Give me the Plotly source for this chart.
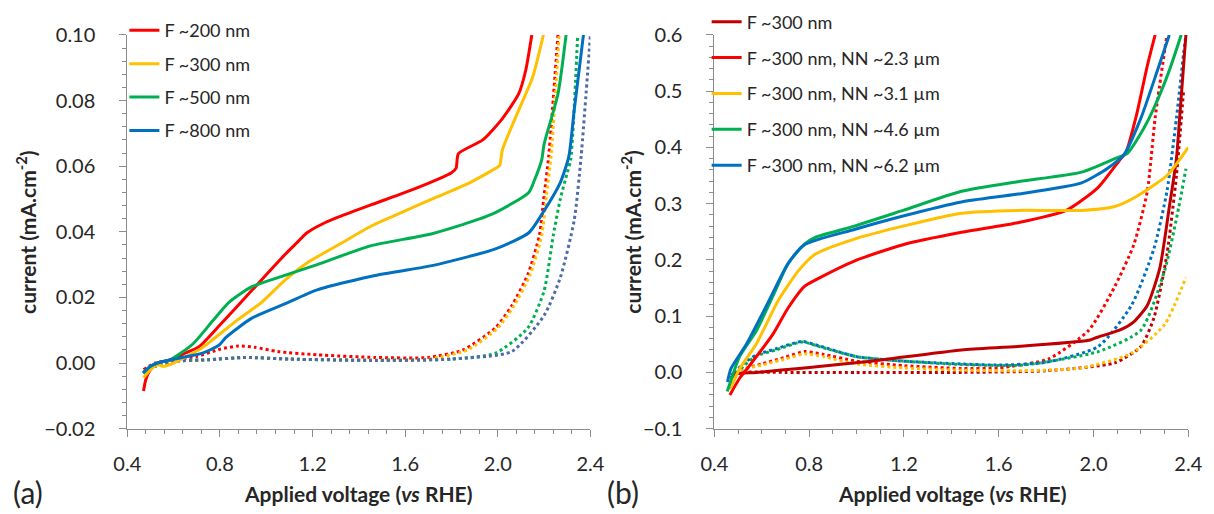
import plotly.graph_objects as go

# ---------------- Panel (a) data ----------------
a_red_v = [0.47, 0.48, 0.50, 0.53, 0.59, 0.65, 0.71, 0.80, 0.94, 1.08, 1.13, 1.176, 1.24, 1.316, 1.46, 1.60, 1.74, 1.80, 1.82, 1.83, 1.935, 2.02, 2.09, 2.12, 2.147]
a_red_j = [-0.0085, -0.005, -0.002, 0.000, 0.001, 0.003, 0.005, 0.0116, 0.0223, 0.033, 0.0365, 0.0397, 0.0423, 0.0446, 0.0484, 0.052, 0.056, 0.058, 0.0594, 0.0638, 0.068, 0.0745, 0.082, 0.089, 0.100]

a_yel_v = [0.47, 0.50, 0.53, 0.556, 0.60, 0.657, 0.72, 0.767, 0.868, 0.98, 1.08, 1.176, 1.316, 1.46, 1.60, 1.74, 1.88, 2.005, 2.01, 2.02, 2.09, 2.15, 2.197]
a_yel_j = [-0.0045, -0.002, -0.0005, -0.001, 0.000, 0.002, 0.0045, 0.007, 0.0127, 0.0185, 0.0252, 0.0305, 0.0362, 0.042, 0.0464, 0.0507, 0.055, 0.060, 0.0605, 0.065, 0.077, 0.087, 0.100]

a_grn_v = [0.47, 0.50, 0.53, 0.586, 0.683, 0.767, 0.839, 0.936, 1.08, 1.22, 1.45, 1.72, 1.97, 2.134, 2.16, 2.19, 2.20, 2.26, 2.295]
a_grn_j = [-0.003, -0.001, 0.000, 0.001, 0.0058, 0.0127, 0.0185, 0.0232, 0.0267, 0.030, 0.0357, 0.0395, 0.0452, 0.052, 0.056, 0.062, 0.0667, 0.082, 0.100]

a_blu_v = [0.467, 0.50, 0.53, 0.586, 0.725, 0.797, 0.826, 0.936, 1.08, 1.22, 1.47, 1.71, 1.99, 2.134, 2.20, 2.27, 2.307, 2.33, 2.37]
a_blu_j = [-0.003, -0.001, 0.000, 0.001, 0.003, 0.0055, 0.0078, 0.0136, 0.018, 0.0223, 0.0267, 0.0296, 0.0348, 0.0397, 0.0464, 0.055, 0.063, 0.077, 0.100]

a_red_dot_v = [0.47, 0.52, 0.60, 0.70, 0.80, 0.88, 0.95, 1.05, 1.22, 1.47, 1.70, 1.85, 1.99, 2.06, 2.13, 2.18, 2.20, 2.22, 2.26]
a_red_dot_j = [-0.002, 0.000, 0.001, 0.002, 0.0042, 0.0052, 0.0048, 0.0035, 0.0025, 0.0017, 0.0017, 0.004, 0.0107, 0.0174, 0.027, 0.039, 0.051, 0.063, 0.100]

a_yel_dot_v = [0.47, 0.52, 0.60, 0.75, 0.91, 1.10, 1.47, 1.70, 1.87, 2.00, 2.07, 2.14, 2.19, 2.21, 2.23, 2.265]
a_yel_dot_j = [-0.003, -0.001, 0.0005, 0.001, 0.0017, 0.0012, 0.0009, 0.0012, 0.004, 0.0107, 0.0174, 0.027, 0.039, 0.051, 0.063, 0.100]

a_grn_dot_v = [0.47, 0.52, 0.60, 0.75, 0.91, 1.10, 1.47, 1.80, 1.99, 2.13, 2.20, 2.24, 2.27, 2.30, 2.315, 2.345]
a_grn_dot_j = [-0.003, -0.001, 0.0005, 0.001, 0.0017, 0.0012, 0.0008, 0.0012, 0.003, 0.0107, 0.022, 0.039, 0.050, 0.058, 0.062, 0.100]

a_blu_dot_v = [0.47, 0.52, 0.60, 0.75, 0.91, 1.10, 1.47, 1.80, 2.06, 2.20, 2.27, 2.33, 2.36, 2.40]
a_blu_dot_j = [-0.003, -0.001, 0.0005, 0.001, 0.0017, 0.0012, 0.0008, 0.0012, 0.0035, 0.0145, 0.026, 0.0435, 0.063, 0.100]

# ---------------- Panel (b) data ----------------
b_dred_v = [0.47, 0.50, 0.577, 0.78, 1.06, 1.443, 1.68, 1.98, 2.00, 2.02, 2.115, 2.17, 2.227, 2.28, 2.32, 2.35, 2.363, 2.39]
b_dred_j = [-0.005, -0.002, 0.000, 0.008, 0.020, 0.040, 0.046, 0.057, 0.060, 0.063, 0.076, 0.090, 0.119, 0.186, 0.294, 0.380, 0.450, 0.600]

b_red_v = [0.465, 0.507, 0.548, 0.647, 0.71, 0.78, 0.825, 0.99, 1.196, 1.443, 1.68, 1.885, 2.02, 2.115, 2.136, 2.18, 2.227, 2.26]
b_red_j = [-0.04, -0.01, 0.012, 0.068, 0.114, 0.153, 0.164, 0.198, 0.227, 0.249, 0.266, 0.288, 0.329, 0.380, 0.390, 0.455, 0.545, 0.600]

b_yel_v = [0.465, 0.507, 0.577, 0.672, 0.755, 0.825, 0.99, 1.196, 1.443, 1.68, 1.95, 2.09, 2.17, 2.31, 2.40]
b_yel_j = [-0.03, 0.007, 0.051, 0.130, 0.181, 0.210, 0.237, 0.260, 0.283, 0.288, 0.288, 0.295, 0.310, 0.350, 0.400]

b_grn_v = [0.454, 0.507, 0.577, 0.647, 0.71, 0.78, 0.825, 0.99, 1.196, 1.443, 1.68, 1.95, 2.09, 2.144, 2.20, 2.255, 2.32, 2.37]
b_grn_j = [-0.034, 0.029, 0.074, 0.136, 0.193, 0.228, 0.240, 0.260, 0.288, 0.322, 0.339, 0.356, 0.380, 0.390, 0.425, 0.470, 0.537, 0.600]

b_blu_v = [0.455, 0.47, 0.536, 0.62, 0.71, 0.78, 0.99, 1.196, 1.443, 1.68, 1.95, 2.06, 2.13, 2.20, 2.27, 2.32]
b_blu_j = [-0.017, 0.007, 0.051, 0.119, 0.193, 0.227, 0.254, 0.278, 0.303, 0.317, 0.337, 0.363, 0.388, 0.452, 0.537, 0.600]

b_dred_dot_v = [0.47, 0.52, 0.70, 1.00, 1.443, 1.80, 2.09, 2.20, 2.255, 2.31, 2.35, 2.38]
b_dred_dot_j = [-0.005, 0.000, 0.000, 0.000, 0.000, 0.003, 0.017, 0.046, 0.097, 0.210, 0.350, 0.500]

b_red_dot_v = [0.47, 0.52, 0.60, 0.70, 0.78, 0.86, 1.00, 1.20, 1.443, 1.60, 1.81, 1.98, 2.09, 2.17, 2.227, 2.26, 2.31]
b_red_dot_j = [-0.010, 0.005, 0.015, 0.027, 0.037, 0.032, 0.020, 0.012, 0.007, 0.008, 0.024, 0.075, 0.153, 0.227, 0.322, 0.452, 0.600]

b_yel_dot_v = [0.47, 0.52, 0.60, 0.70, 0.78, 0.86, 1.00, 1.20, 1.443, 1.70, 1.95, 2.16, 2.30, 2.39]
b_yel_dot_j = [-0.010, 0.005, 0.013, 0.024, 0.033, 0.028, 0.015, 0.008, 0.004, 0.003, 0.008, 0.034, 0.085, 0.169]

b_grn_dot_v = [0.47, 0.52, 0.577, 0.66, 0.77, 0.85, 1.00, 1.20, 1.443, 1.70, 2.02, 2.20, 2.30, 2.36, 2.39]
b_grn_dot_j = [-0.020, 0.010, 0.029, 0.040, 0.054, 0.045, 0.028, 0.020, 0.014, 0.013, 0.037, 0.075, 0.181, 0.294, 0.362]

b_blu_dot_v = [0.47, 0.52, 0.577, 0.66, 0.77, 0.85, 1.00, 1.20, 1.443, 1.60, 1.80, 2.02, 2.16, 2.255, 2.31, 2.35, 2.38, 2.39]
b_blu_dot_j = [-0.010, 0.015, 0.031, 0.042, 0.055, 0.046, 0.028, 0.020, 0.015, 0.013, 0.018, 0.046, 0.119, 0.220, 0.322, 0.452, 0.566, 0.600]

a_names = ["F ~200 nm", "F ~300 nm", "F ~500 nm", "F ~800 nm"]
b_names = ["F ~300 nm", "F ~300 nm, NN ~2.3 µm", "F ~300 nm, NN ~3.1 µm",
           "F ~300 nm, NN ~4.6 µm", "F ~300 nm, NN ~6.2 µm"]

RED, YEL, GRN, BLU, DRED = "#FF0000", "#FFC000", "#00B050", "#0070C0", "#C00000"
SLATE = "#4F6AA8"
FONT = "Lato"
AXC = "#8C8C8C"
TXT = "#262626"

fig = go.Figure()

def solid(v, j, color, name, xa, ya, legend, grp):
    fig.add_trace(go.Scatter(x=v, y=j, mode="lines", name=name, xaxis=xa, yaxis=ya,
                             line=dict(color=color, width=3, shape="spline", smoothing=0.6),
                             legend=legend, legendgroup=grp, showlegend=True))

def dotted(v, j, color, xa, ya):
    fig.add_trace(go.Scatter(x=v, y=j, mode="lines", xaxis=xa, yaxis=ya, showlegend=False,
                             line=dict(color=color, width=3, dash="dot", shape="spline", smoothing=0.6)))

# panel (a)
dotted(a_red_dot_v, a_red_dot_j, RED, "x", "y")
dotted(a_yel_dot_v, a_yel_dot_j, YEL, "x", "y")
dotted(a_grn_dot_v, a_grn_dot_j, GRN, "x", "y")
dotted(a_blu_dot_v, a_blu_dot_j, SLATE, "x", "y")
solid(a_red_v, a_red_j, RED, a_names[0], "x", "y", "legend", "a1")
solid(a_yel_v, a_yel_j, YEL, a_names[1], "x", "y", "legend", "a2")
solid(a_grn_v, a_grn_j, GRN, a_names[2], "x", "y", "legend", "a3")
solid(a_blu_v, a_blu_j, BLU, a_names[3], "x", "y", "legend", "a4")

# panel (b)
dotted(b_dred_dot_v, b_dred_dot_j, DRED, "x2", "y2")
dotted(b_red_dot_v, b_red_dot_j, RED, "x2", "y2")
dotted(b_yel_dot_v, b_yel_dot_j, YEL, "x2", "y2")
dotted(b_grn_dot_v, b_grn_dot_j, GRN, "x2", "y2")
dotted(b_blu_dot_v, b_blu_dot_j, BLU, "x2", "y2")
solid(b_dred_v, b_dred_j, DRED, b_names[0], "x2", "y2", "legend2", "b1")
solid(b_red_v, b_red_j, RED, b_names[1], "x2", "y2", "legend2", "b2")
solid(b_yel_v, b_yel_j, YEL, b_names[2], "x2", "y2", "legend2", "b3")
solid(b_grn_v, b_grn_j, GRN, b_names[3], "x2", "y2", "legend2", "b4")
solid(b_blu_v, b_blu_j, BLU, b_names[4], "x2", "y2", "legend2", "b5")

W, H = 1214, 514
def px(x): return x / W
def py(y): return 1 - y / H

tickfont = dict(family=FONT, size=20, color=TXT)

def xaxis(dom, anchor, minor_dt):
    return dict(domain=dom, anchor=anchor, range=[0.4, 2.4], dtick=0.4, tick0=0.4,
                tickformat=".1f", showline=True, linecolor=AXC, linewidth=1,
                ticks="outside", ticklen=7, tickcolor=AXC, showgrid=False, zeroline=False,
                tickfont=tickfont, ticklabelstandoff=10,
                minor=dict(dtick=minor_dt, tick0=0.4, ticks="outside", ticklen=4, tickcolor=AXC))

def yaxis(dom, anchor, rng, dt, minor_dt, fmt):
    return dict(domain=dom, anchor=anchor, range=rng, dtick=dt, tick0=rng[0],
                tickformat=fmt, showline=True, linecolor=AXC, linewidth=1,
                ticks="outside", ticklen=7, tickcolor=AXC, showgrid=False, zeroline=False,
                tickfont=tickfont, ticklabelstandoff=20,
                minor=dict(dtick=minor_dt, tick0=rng[0], ticks="outside", ticklen=4, tickcolor=AXC))

ydom = [py(436), py(23)]
fig.update_layout(
    width=W, height=H, margin=dict(l=0, r=0, t=0, b=0),
    paper_bgcolor="white", plot_bgcolor="white",
    font=dict(family=FONT, color=TXT),
    xaxis=xaxis([px(116), px(590)], "y", 0.08),
    yaxis=yaxis(ydom, "x", [-0.02, 0.10], 0.02, 0.004, ".2f"),
    xaxis2=xaxis([px(717), px(1202)], "y2", 0.1),
    yaxis2=yaxis(ydom, "x2", [-0.1, 0.6], 0.1, 0.02, ".1f"),
    legend=dict(x=px(113), y=py(-1), xanchor="left", yanchor="top", bgcolor="rgba(0,0,0,0)",
                font=dict(family=FONT, size=18, color=TXT), tracegroupgap=7,
                itemwidth=30),
    legend2=dict(x=px(709), y=py(-10), xanchor="left", yanchor="top", bgcolor="rgba(0,0,0,0)",
                 font=dict(family=FONT, size=18, color=TXT), tracegroupgap=9.5,
                 itemwidth=30),
)

ann = []
for cx, cy in [(13, 230), (632, 230)]:
    ann.append(dict(text="current (mA.cm<sup>-2</sup>)", x=px(cx), y=py(cy), xref="paper", yref="paper",
                    textangle=-90, showarrow=False,
                    font=dict(family=FONT, size=21, color=TXT, weight="bold"),
                    xanchor="center", yanchor="middle"))
for cx in [352, 960]:
    ann.append(dict(text="Applied voltage (<i>vs</i> RHE)", x=px(cx), y=py(504), xref="paper", yref="paper",
                    showarrow=False, font=dict(family=FONT, size=21, color=TXT, weight="bold"),
                    xanchor="center", yanchor="middle"))
for lab, cx in [("(a)", 14), ("(b)", 623)]:
    ann.append(dict(text=lab, x=px(cx), y=py(502), xref="paper", yref="paper", showarrow=False,
                    font=dict(family=FONT, size=30, color=TXT), xanchor="center", yanchor="middle"))
fig.update_layout(annotations=ann)

fig.write_html("out.html")
